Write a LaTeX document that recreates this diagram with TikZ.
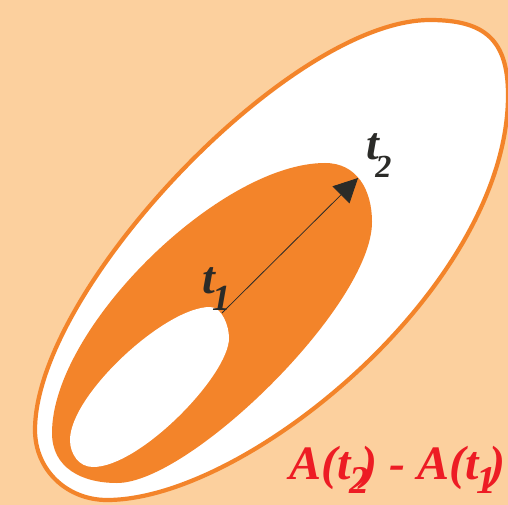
\documentclass[tikz,border=0pt]{standalone}
\usepackage{fontspec}
\setmainfont{Liberation Serif}
\usetikzlibrary{arrows.meta}

\definecolor{peach}{HTML}{FCD09E}
\definecolor{tangerine}{HTML}{F3842A}
\definecolor{inkdark}{HTML}{2B2B28}
\definecolor{areared}{HTML}{ED1C24}

% lowered digit used as a subscript
\newcommand{\lowdigit}[3][0.38em]{\raisebox{-#1}{\scalebox{#2}{#3}}}

\begin{document}
\begin{tikzpicture}[
  x=1pt, y=-1pt,
  rim/.style={draw=tangerine, line width=4.2pt, fill=white},
  band/.style={fill=tangerine},
  hole/.style={fill=white},
  lbl/.style={text=inkdark, font=\fontsize{46}{50}\selectfont\bfseries\itshape, inner sep=0pt},
  diff/.style={text=areared, font=\fontsize{48}{50}\selectfont\bfseries\itshape, inner sep=0pt},
  arr/.style={-{Triangle[length=24pt,width=24pt]}, line width=0.8pt, draw=inkdark}
]
  \useasboundingbox (0,0) rectangle (508,505);
  \clip (0,0) rectangle (508,505);
  \fill[peach] (0,0) rectangle (508,505);

  % outer region A(t2), band, inner region A(t1)
  \draw[rim] (430,20) .. controls (485,20) and (508,40) .. (508,95)
    .. controls (508,285) and (248,500) .. (107,500)
    .. controls (67,500) and (35,470) .. (35,430)
    .. controls (35,290) and (290,20) .. cycle;
  \fill[band] (325,163) .. controls (357,163) and (372,190) .. (372,222)
    .. controls (372,305) and (190,483) .. (117,483)
    .. controls (82,483) and (52,468) .. (52,433)
    .. controls (52,328) and (220,163) .. cycle;
  \fill[hole] (210,307) .. controls (222,307) and (229,326) .. (229,338)
    .. controls (229,375) and (140,467) .. (93,467)
    .. controls (79,467) and (70,454) .. (70,440)
    .. controls (70,395) and (165,307) .. cycle;

  \coordinate (p1) at (222,313);
  \coordinate (p2) at (358,178);
  \draw[arr] (p1) -- (p2);

  \node[lbl, anchor=base west] (t1) at (202,293) {t\kern-0.06em\lowdigit{0.8}{1}};
  \node[lbl, anchor=base west] (t2) at (366,160) {t\kern-0.08em\lowdigit{0.7}{2}};
  \node[diff, anchor=base west] (area) at (289,479)
    {A(t\kern-0.02em\lowdigit[0.3em]{0.82}{2}\kern-0.16em) - A(t\kern-0.04em\lowdigit[0.3em]{0.82}{1}\kern-0.14em)};
\end{tikzpicture}
\end{document}
